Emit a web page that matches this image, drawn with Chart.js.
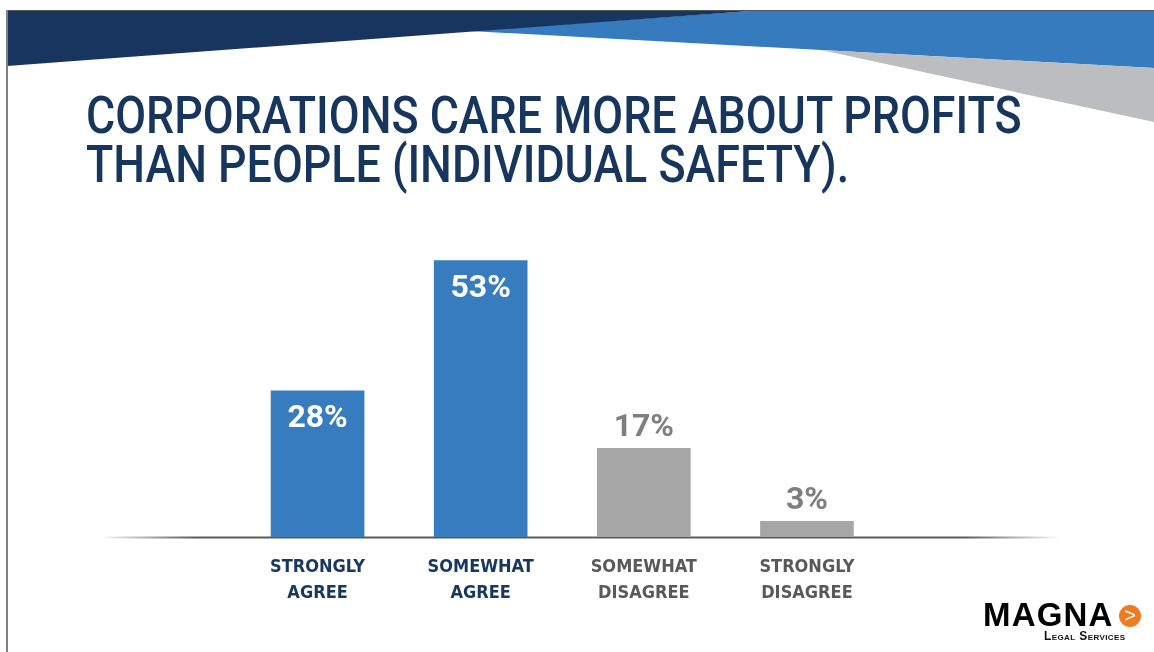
<!DOCTYPE html>
<html>
<head>
<meta charset="utf-8">
<script src="https://cdn.jsdelivr.net/npm/chart.js@4.4.1/dist/chart.umd.min.js"></script>
<style>
  html, body { margin:0; padding:0; background:#ffffff; }
  body { width:1154px; height:652px; position:relative; overflow:hidden; }
  #deco { position:absolute; left:0; top:0; }
  #title { position:absolute; left:86px; top:91px; color:#17365d; font-family:Roboto,"DejaVu Sans Condensed",sans-serif; font-size:52px; line-height:49px; font-weight:500; white-space:nowrap; transform-origin:0 0; }
  #chartwrap { position:absolute; left:0; top:0; width:1154px; height:652px; }
  #logo { position:absolute; left:983px; top:597px; width:170px; height:50px; }
  #magna { position:absolute; left:0; top:0; font-family:"Liberation Sans",Arial,sans-serif; font-weight:700; font-size:33px; letter-spacing:1.2px; color:#000; line-height:36px; }
  #legal { position:absolute; left:61px; top:32px; font-family:"Liberation Sans",Arial,sans-serif; font-weight:700; font-size:12px; font-variant:small-caps; color:#111; letter-spacing:0.4px; white-space:nowrap; }
  #arrow { position:absolute; left:136px; top:8px; width:22px; height:22px; border-radius:50%; background:#f07c21; color:#fff; font-family:"Liberation Sans",Arial,sans-serif; font-size:20px; line-height:21px; text-align:center; font-weight:400; }
</style>
</head>
<body>
<svg id="deco" width="1154" height="652" xmlns="http://www.w3.org/2000/svg">
  <polygon points="470,31 750,11 1154,11 1154,68" fill="#367bbd"/>
  <polygon points="7,11 750,11 7,66" fill="#17355f"/>
  <polygon points="821,50 1154,68 1154,122" fill="#bcbdc0"/>
  <line x1="6" y1="10.5" x2="1154" y2="10.5" stroke="#555" stroke-width="1"/>
  <line x1="7" y1="10" x2="7" y2="652" stroke="#808080" stroke-width="2"/>
</svg>
<div id="title">CORPORATIONS CARE MORE ABOUT PROFITS<br>THAN PEOPLE (INDIVIDUAL SAFETY).</div>
<div id="chartwrap"><canvas id="c" width="1154" height="652"></canvas></div>
<div id="logo">
  <div id="magna">MAGNA</div>
  <div id="arrow">&gt;</div>
  <div id="legal">Legal Services</div>
</div>
<script>
const categories = [["STRONGLY","AGREE"],["SOMEWHAT","AGREE"],["SOMEWHAT","DISAGREE"],["STRONGLY","DISAGREE"]];
const values = [28, 53, 17, 3];
const valueLabels = ["28%", "53%", "17%", "3%"];
const barColors = ["#367cbe", "#367cbe", "#a6a6a6", "#a6a6a6"];
const tickColors = ["#1a3760", "#1a3760", "#595959", "#595959"];
const labelInside = [true, true, false, false];
const labelColors = ["#ffffff", "#ffffff", "#7f7f7f", "#7f7f7f"];

// fit title width
(function(){
  const t = document.getElementById('title');
  const w = t.scrollWidth;
  const target = 936;
  t.style.transform = 'scaleX(' + (target / w) + ')';
})();

const baselinePlugin = {
  id: 'baseline',
  beforeDatasetsDraw(chart) {
    const ctx = chart.ctx;
    const y = chart.chartArea.bottom + 0.5;
    const x0 = 100, x1 = 1060;
    const g = ctx.createLinearGradient(x0, 0, x1, 0);
    g.addColorStop(0, 'rgba(89,89,89,0)');
    g.addColorStop(0.1, 'rgba(89,89,89,1)');
    g.addColorStop(0.9, 'rgba(89,89,89,1)');
    g.addColorStop(1, 'rgba(89,89,89,0)');
    ctx.save();
    ctx.strokeStyle = g;
    ctx.lineWidth = 2;
    ctx.beginPath();
    ctx.moveTo(x0, y);
    ctx.lineTo(x1, y);
    ctx.stroke();
    ctx.restore();
  }
};

const valueLabelPlugin = {
  id: 'valueLabels',
  afterDatasetsDraw(chart) {
    const ctx = chart.ctx;
    const meta = chart.getDatasetMeta(0);
    ctx.save();
    ctx.font = '700 32px Roboto, "Liberation Sans", Arial, sans-serif';
    ctx.textAlign = 'center';
    ctx.textBaseline = 'middle';
    meta.data.forEach((bar, i) => {
      ctx.fillStyle = labelColors[i];
      const y = labelInside[i] ? bar.y + 28 : bar.y - 20;
      ctx.fillText(valueLabels[i], bar.x, y);
    });
    ctx.restore();
  }
};

new Chart(document.getElementById('c'), {
  type: 'bar',
  data: {
    labels: categories,
    datasets: [{
      data: values,
      backgroundColor: barColors,
      borderWidth: 0,
      barThickness: 93
    }]
  },
  options: {
    responsive: false,
    animation: false,
    events: [],
    layout: { padding: { left: 236, right: 265.5, top: 224, bottom: 0 } },
    plugins: { legend: { display: false }, tooltip: { enabled: false } },
    scales: {
      y: { display: false, min: 0, max: 60 },
      x: {
        grid: { display: false, drawTicks: false },
        border: { display: false },
        afterFit(scale) { scale.height = 115; },
        ticks: {
          padding: 17,
          maxRotation: 0,
          autoSkip: false,
          color: tickColors,
          font: { family: '"DejaVu Sans Condensed", "Liberation Sans", sans-serif', size: 18, weight: '700', lineHeight: 1.45 }
        }
      }
    }
  },
  plugins: [baselinePlugin, valueLabelPlugin]
});
</script>
</body>
</html>
